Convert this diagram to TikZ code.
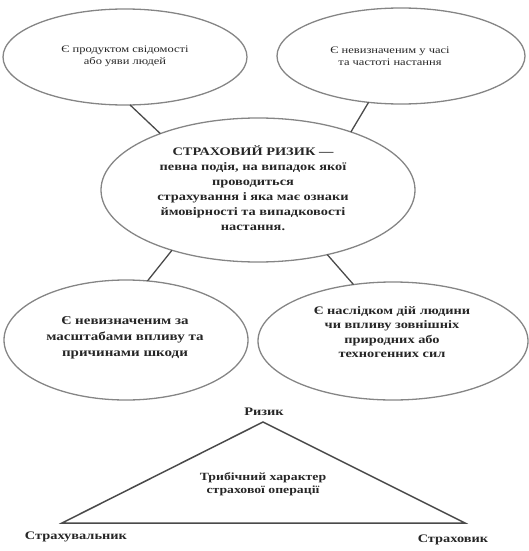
\documentclass[tikz,border=0pt]{standalone}
\usepackage{fontspec}
\setmainfont{Liberation Serif}[FakeStretch=1.25]
\usetikzlibrary{shapes.geometric}
\definecolor{rim}{HTML}{858585}
\definecolor{ink}{HTML}{262626}
\definecolor{wire}{HTML}{4A4A4A}
\tikzset{
  bubble/.style={ellipse, draw=rim, line width=1.3pt, inner sep=0pt, outer sep=0pt},
  txt/.style={text=ink, align=center, inner sep=0pt},
  wirel/.style={draw=wire, line width=1.3pt},
  tri/.style={draw=wire, line width=1.5pt, line join=miter}
}
\begin{document}
\begin{tikzpicture}[x=1pt,y=-1pt]
\useasboundingbox (0,0) rectangle (529,551);
% ellipses
\node[bubble, minimum width=244pt, minimum height=96pt] (tl) at (125,57) {};
\node[bubble, minimum width=248pt, minimum height=96pt] (tr) at (401,56) {};
\node[bubble, minimum width=314pt, minimum height=144pt] (c) at (258,190) {};
\node[bubble, minimum width=244pt, minimum height=120pt] (bl) at (126,340) {};
\node[bubble, minimum width=270pt, minimum height=118pt] (br) at (393,341) {};
% texts
\node[txt, font=\fontsize{10}{12}\selectfont] (tlt) at (125,56) {Є продуктом свідомості\\або уяви людей};
\node[txt, font=\fontsize{10}{12}\selectfont] (trt) at (390,56) {Є невизначеним у часі\\та частоті настання};
\node[txt, font=\fontsize{11.5}{15}\selectfont\bfseries] (ct) at (253,188) {СТРАХОВИЙ РИЗИК —\\певна подія, на випадок якої\\проводиться\\страхування і яка має ознаки\\ймовірності та випадковості\\настання.};
\node[txt, font=\fontsize{12}{16}\selectfont\bfseries] (blt) at (125,338) {Є невизначеним за\\масштабами впливу та\\причинами шкоди};
\node[txt, font=\fontsize{11.5}{14.5}\selectfont\bfseries] (brt) at (392,332) {Є наслідком дій людини\\чи впливу зовнішніх\\природних або\\техногенних сил};
% connectors
\draw[wirel] (tl.-84) -- (c.150);
\draw[wirel] (tr.-125) -- (c.32);
\draw[wirel] (c.-145) -- (bl.70);
\draw[wirel] (c.-43) -- (br.125);
% triangle
\coordinate (apex) at (263,422);
\coordinate (lb) at (62,523);
\coordinate (rb) at (465,523);
\draw[tri] (apex) -- (rb) -- (lb) -- cycle;
\node[txt, font=\fontsize{11}{13}\selectfont\bfseries] (tt) at (263,484) {Трибічний характер\\страхової операції};
\node[txt, font=\fontsize{11.5}{13}\selectfont\bfseries] (risk) at (264,412) {Ризик};
\node[txt, font=\fontsize{11.5}{13}\selectfont\bfseries] (insd) at (76,537) {Страхувальник};
\node[txt, font=\fontsize{11.5}{13}\selectfont\bfseries] (insr) at (453,540) {Страховик};
\end{tikzpicture}
\end{document}
